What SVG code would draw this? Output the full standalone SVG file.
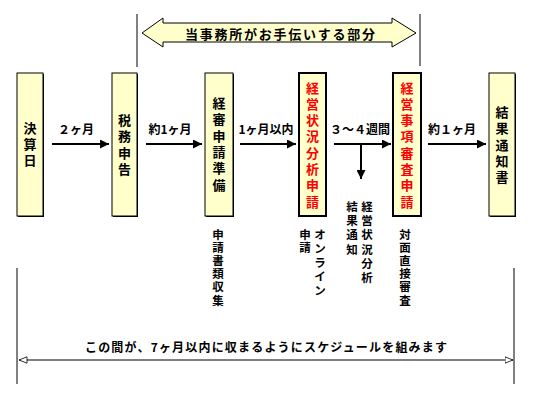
<svg xmlns="http://www.w3.org/2000/svg" width="533" height="400" viewBox="0 0 533 400">
<defs>
<marker id="ah" viewBox="0 0 10 10" refX="10" refY="5" markerWidth="4.5" markerHeight="4.5" orient="auto" markerUnits="strokeWidth"><path d="M0,0 L10,5 L0,10 z" fill="#000"/></marker>
<marker id="oh" viewBox="0 0 10 10" refX="10" refY="5" markerWidth="9" markerHeight="8" orient="auto-start-reverse" markerUnits="userSpaceOnUse"><path d="M0,1 L10,5 L0,9 z" fill="#fff" stroke="#000" stroke-width="1"/></marker>
<style>
text{font-family:"Noto Sans CJK JP","Noto Sans CJK SC",sans-serif;font-weight:bold;fill:#000}
.bx{fill:#FFFFCC;stroke:#000;stroke-width:1}
.bx2{fill:#FFFFCC;stroke:#000;stroke-width:2}
.sh{fill:#000}
.bt{font-size:13px;text-anchor:middle}
.red{fill:#FF0000}
.lb{font-size:12px;text-anchor:middle}
.st{font-size:11.5px;text-anchor:middle}
.ln{stroke:#000;stroke-width:1;fill:none}
.ar{stroke:#000;stroke-width:2;fill:none;marker-end:url(#ah)}
</style>
</defs>

<g id="connectors">
<line class="ln" x1="137" y1="14" x2="137" y2="67"/>
<line class="ln" x1="420" y1="14" x2="420" y2="66"/>
<line class="ar" x1="52" y1="144" x2="109" y2="144"/>
<line class="ar" x1="146" y1="144" x2="202" y2="144"/>
<line class="ar" x1="240" y1="144" x2="296" y2="144"/>
<line class="ar" x1="334" y1="144" x2="391" y2="144"/>
<line class="ar" x1="361" y1="144" x2="361" y2="179"/>
<line class="ar" x1="428" y1="144" x2="486" y2="144"/>
<line class="ln" x1="17" y1="268" x2="17" y2="384"/>
<line class="ln" x1="514" y1="268" x2="514" y2="384"/>
<line class="ln" x1="19" y1="360" x2="513" y2="360" marker-start="url(#oh)" marker-end="url(#oh)"/>
</g>

<g id="top-arrow">
<polygon points="142,33 163,18 163,23 392,23 392,18 416,33 392,47 392,42 163,42 163,47" fill="#FFFFCC" stroke="#000" stroke-width="1"/>
<text x="280" y="38.5" font-size="13" text-anchor="middle" textLength="190" lengthAdjust="spacing">当事務所がお手伝いする部分</text>
</g>

<g id="n1">
<rect class="sh" x="18" y="74" width="26" height="143"/>
<rect class="bx" x="17" y="73" width="26" height="143"/>
<text class="bt" x="30 30 30" y="133 149 165">決算日</text>
</g>

<g id="n2">
<rect class="sh" x="113" y="74" width="25" height="143"/>
<rect class="bx" x="112" y="73" width="25" height="143"/>
<text class="bt" x="124.5 124.5 124.5 124.5" y="125 141.3 157.6 174">税務申告</text>
</g>

<g id="n3">
<rect class="sh" x="206" y="74" width="28" height="143"/>
<rect class="bx" x="205" y="73" width="28" height="143"/>
<text class="bt" x="219 219 219 219 219 219" y="108 124.3 140.6 157 173.3 189.6">経審申請準備</text>
</g>

<g id="n4">
<rect class="sh" x="300" y="74" width="27" height="143"/>
<rect class="bx2" x="299" y="73" width="27" height="143"/>
<text class="bt red" x="312.5 312.5 312.5 312.5 312.5 312.5 312.5 312.5" y="92.5 108.8 125.1 141.4 157.7 174 190.3 206.6">経営状況分析申請</text>
</g>

<g id="n5">
<rect class="sh" x="394" y="74" width="28" height="143"/>
<rect class="bx2" x="393" y="73" width="28" height="143"/>
<text class="bt red" x="407 407 407 407 407 407 407 407" y="92.5 108.8 125.1 141.4 157.7 174 190.3 206.6">経営事項審査申請</text>
</g>

<g id="n6">
<rect class="sh" x="490" y="74" width="26" height="143"/>
<rect class="bx" x="489" y="73" width="26" height="143"/>
<text class="bt" x="502 502 502 502 502" y="117 133.3 149.6 166 182.3">結果通知書</text>
</g>

<g id="labels">
<text class="lb" x="76" y="134">２ヶ月</text>
<text class="lb" x="170" y="134">約1ヶ月</text>
<text class="lb" x="266" y="134">1ヶ月以内</text>
<text class="lb" x="360" y="134">３～４週間</text>
<text class="lb" x="452" y="134">約１ヶ月</text>
<text class="st" x="218 218 218 218 218 218" y="238.5 251.7 264.9 278.1 291.3 304.5">申請書類収集</text>
<text class="st" x="320 320 320 320 320" y="238.5 252.5 266.5 280.5 294.5">オンライン</text>
<text class="st" x="305 305" y="238.5 251.7">申請</text>
<text class="st" x="367 367 367 367 367 367" y="211 225.2 239.4 253.6 267.8 282">経営状況分析</text>
<text class="st" x="352 352 352 352" y="211 225.2 239.4 253.6">結果通知</text>
<text class="st" x="405 405 405 405 405 405" y="238.5 251.7 264.9 278.1 291.3 304.5">対面直接審査</text>
<text x="266" y="352" font-size="12" text-anchor="middle" textLength="362" lengthAdjust="spacing">この間が、7ヶ月以内に収まるようにスケジュールを組みます</text>
</g>
</svg>
